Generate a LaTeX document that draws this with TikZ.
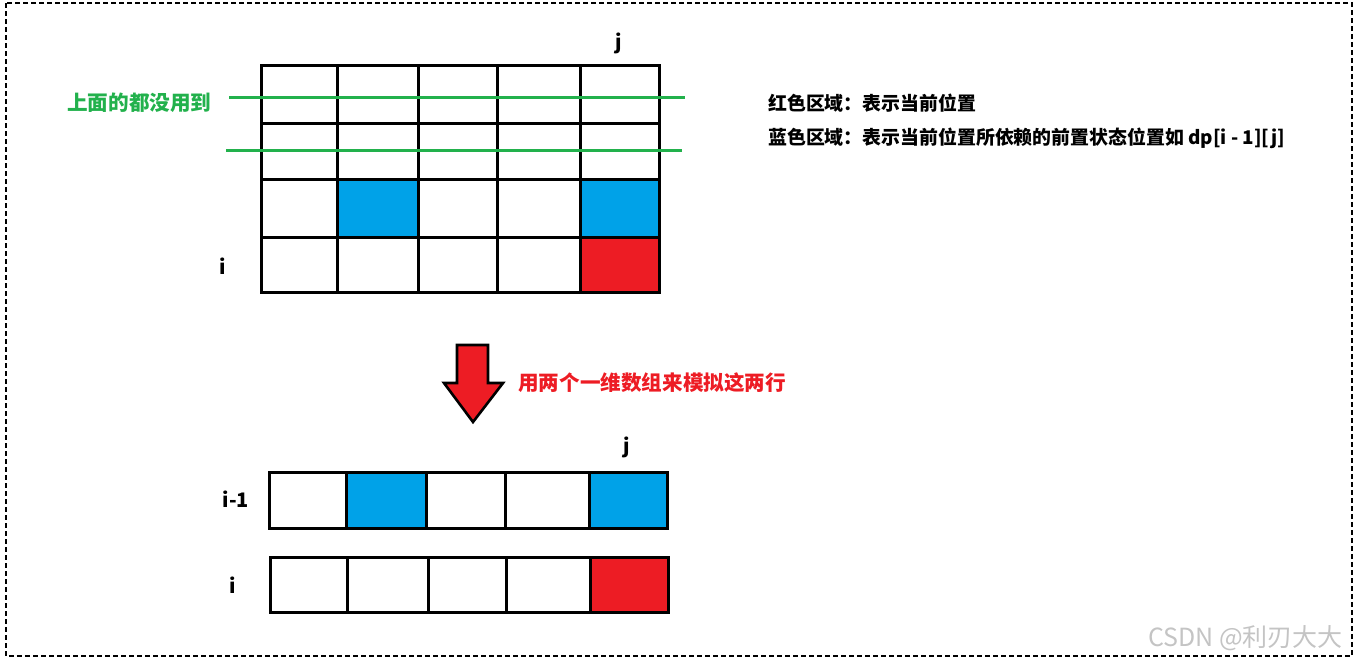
\documentclass[tikz,border=0pt]{standalone}
\usepackage{fontspec}
\newfontfamily\cjk{Noto Sans CJK SC}
\definecolor{cblue}{HTML}{00A2E8}
\definecolor{cred}{HTML}{ED1C24}
\definecolor{cgreen}{HTML}{22B14C}
\definecolor{wm}{HTML}{C4C4C4}
\tikzset{
  gridline/.style={line width=3pt, line cap=rect},
  greenline/.style={cgreen, line width=3pt},
  lbl/.style={inner sep=0pt, font=\cjk\bfseries\fontsize{20}{24}\selectfont},
  note/.style={inner sep=0pt, anchor=west, font=\cjk\bfseries\fontsize{18.9}{22}\selectfont},
  bignote/.style={inner sep=0pt, anchor=west, font=\cjk\bfseries\fontsize{20.6}{24}\selectfont},
}
\begin{document}
\begin{tikzpicture}[x=1pt,y=-1pt]
\useasboundingbox (0,0) rectangle (1359,662);
% outer dashed frame
\draw[line width=1.2pt, dash pattern=on 5pt off 3pt] (6,3) rectangle (1352,656);

% ---------- top grid ----------
\fill[cblue] (337,179) rectangle (418,237);
\fill[cblue] (580,179) rectangle (659,237);
\fill[cred]  (580,237) rectangle (659,292);
\draw[gridline] (261,65) rectangle (659,292);
\foreach \x in {337,418,497,580} \draw[gridline] (\x,65) -- (\x,292);
\foreach \y in {123,179,237} \draw[gridline] (261,\y) -- (659,\y);

% green lines
\coordinate (g1a) at (229,97);  \coordinate (g1b) at (685,97);
\coordinate (g2a) at (226,150); \coordinate (g2b) at (682,150);
\draw[greenline] (g1a) -- (g1b);
\draw[greenline] (g2a) -- (g2b);

\node[bignote, text=cgreen] (unused) at (67,103) {上面的都没用到};
\node[lbl] (jtop) at (619,43) {j};
\node[lbl] (itop) at (223,266) {i};

\node[note] (redtxt) at (768,103) {红色区域：表示当前位置};
\node[note] (bluetxt) at (768,138) {蓝色区域：表示当前位置所依赖的前置状态位置如 dp[i - 1][j]};

% ---------- arrow ----------
\draw[fill=cred, line width=2.6pt, line join=miter]
  (457,345) -- (488,345) -- (488,383) -- (503,383) -- (473,422) -- (444,383) -- (457,383) -- cycle;
\node[bignote, text=cred] (arrowtxt) at (518,383) {用两个一维数组来模拟这两行};

% ---------- bottom rows ----------
\fill[cblue] (346,472) rectangle (426,528);
\fill[cblue] (589,472) rectangle (667,528);
\draw[gridline] (269,472) rectangle (667,528);
\foreach \x in {346,426,505,589} \draw[gridline] (\x,472) -- (\x,528);

\fill[cred] (590,557) rectangle (668,612);
\draw[gridline] (270,557) rectangle (668,612);
\foreach \x in {347,428,506,590} \draw[gridline] (\x,557) -- (\x,612);

\node[lbl] (jbot) at (627,447) {j};
\node[lbl] (iprev) at (236,499) {i-1};
\node[lbl] (icur) at (233,585) {i};

% watermark
\node[inner sep=0pt, anchor=west, text=wm, font=\cjk\fontsize{25}{28}\selectfont] (wmark) at (1148,638) {CSDN @利刃大大};
\end{tikzpicture}
\end{document}
